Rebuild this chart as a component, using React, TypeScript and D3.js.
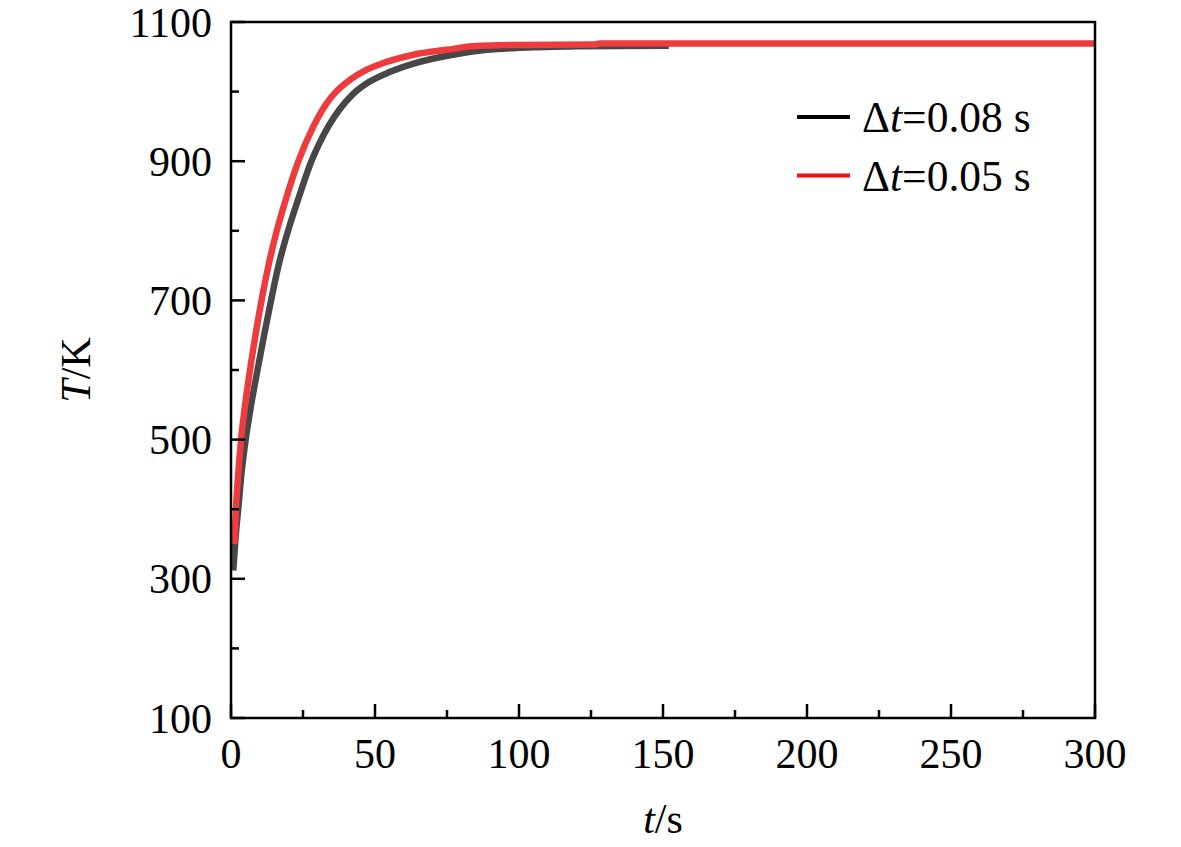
import React from "react";
import * as d3 from "d3";

const xTicks = [0, 50, 100, 150, 200, 250, 300];
const yTicks = [100, 300, 500, 700, 900, 1100];

const blackT = [0.8, 1.6, 2.5, 3.6, 5.1, 7.0, 9.2, 11.5, 13.9, 16.5, 19.8, 23.7, 27.9, 30.6, 33.8, 37.8, 42.0, 48, 55, 64, 77, 88.8, 100, 120, 152];
const blackV = [312, 360, 400, 450, 500, 550, 600, 650, 700, 750, 800, 850, 900, 925, 950, 975, 995, 1014, 1028, 1041, 1053, 1060, 1063, 1065, 1066];

const redT = [1.2, 1.7, 2.5, 3.5, 4.9, 6.6, 8.5, 10.6, 13.0, 15.9, 19.4, 23.4, 28.6, 33.5, 36.5, 41.3, 46.5, 52.9, 63.3, 74.9, 84, 100, 126, 128, 200, 300];
const redV = [350, 400, 450, 500, 550, 600, 650, 700, 750, 800, 850, 900, 950, 985, 1000, 1017, 1030, 1041, 1053, 1060, 1065, 1067, 1067.5, 1069, 1069, 1069];

const legendLabels = ["0.08", "0.05"];

const W = 1181, H = 847;
const L = 231, R = 1095, T = 22, B = 718;
const FONT = "'Liberation Serif', 'Times New Roman', serif";

export default function App() {
  const x = d3.scaleLinear().domain([0, 300]).range([L, R]);
  const y = d3.scaleLinear().domain([100, 1100]).range([B, T]);
  const line = d3
    .line<[number, number]>()
    .x((d) => x(d[0]))
    .y((d) => y(d[1]))
    .curve(d3.curveMonotoneX);
  const blackData = blackT.map((t, i) => [t, blackV[i]] as [number, number]);
  const redData = redT.map((t, i) => [t, redV[i]] as [number, number]);
  const xMinor = d3.range(25, 300, 50);
  const yMinor = d3.range(200, 1100, 200);

  return (
    <svg width={W} height={H} style={{ position: "absolute", left: 0, top: 0, background: "#fff" }} fontFamily={FONT}>
      <rect x={0} y={0} width={W} height={H} fill="#fff" />
      <path d={line(blackData) || ""} fill="none" stroke="#474747" strokeWidth={6.5} />
      <path d={line(redData) || ""} fill="none" stroke="#ee3b3d" strokeWidth={6.5} />
      {/* frame */}
      <rect x={L} y={T} width={R - L} height={B - T} fill="none" stroke="#000" strokeWidth={2.5} />
      {/* x ticks */}
      {xTicks.map((v) => (
        <g key={"xt" + v}>
          <line x1={x(v)} x2={x(v)} y1={B} y2={B - 14} stroke="#000" strokeWidth={2.5} />
          <text x={x(v)} y={768} fontSize={42} textAnchor="middle">{v}</text>
        </g>
      ))}
      {xMinor.map((v) => (
        <line key={"xm" + v} x1={x(v)} x2={x(v)} y1={B} y2={B - 8} stroke="#000" strokeWidth={2.5} />
      ))}
      {yTicks.map((v) => (
        <g key={"yt" + v}>
          <line x1={L} x2={L + 14} y1={y(v)} y2={y(v)} stroke="#000" strokeWidth={2.5} />
          <text x={212} y={y(v) + 14.5} fontSize={42} textAnchor="end">{v}</text>
        </g>
      ))}
      {yMinor.map((v) => (
        <line key={"ym" + v} x1={L} x2={L + 8} y1={y(v)} y2={y(v)} stroke="#000" strokeWidth={2.5} />
      ))}
      {/* axis titles */}
      <text x={663} y={833} fontSize={42} textAnchor="middle">
        <tspan fontStyle="italic">t</tspan>/s
      </text>
      <text transform={`translate(90, 370) rotate(-90)`} fontSize={42} textAnchor="middle">
        <tspan fontStyle="italic">T</tspan>/K
      </text>
      {/* legend */}
      {legendLabels.map((lab, i) => (
        <g key={lab}>
          <line x1={797} x2={850} y1={117 + i * 58.5} y2={117 + i * 58.5} stroke={i === 0 ? "#000" : "#ee1111"} strokeWidth={4} />
          <text x={862} y={132 + i * 58.5} fontSize={43.5}>
            Δ<tspan fontStyle="italic">t</tspan>={lab} s
          </text>
        </g>
      ))}
    </svg>
  );
}
